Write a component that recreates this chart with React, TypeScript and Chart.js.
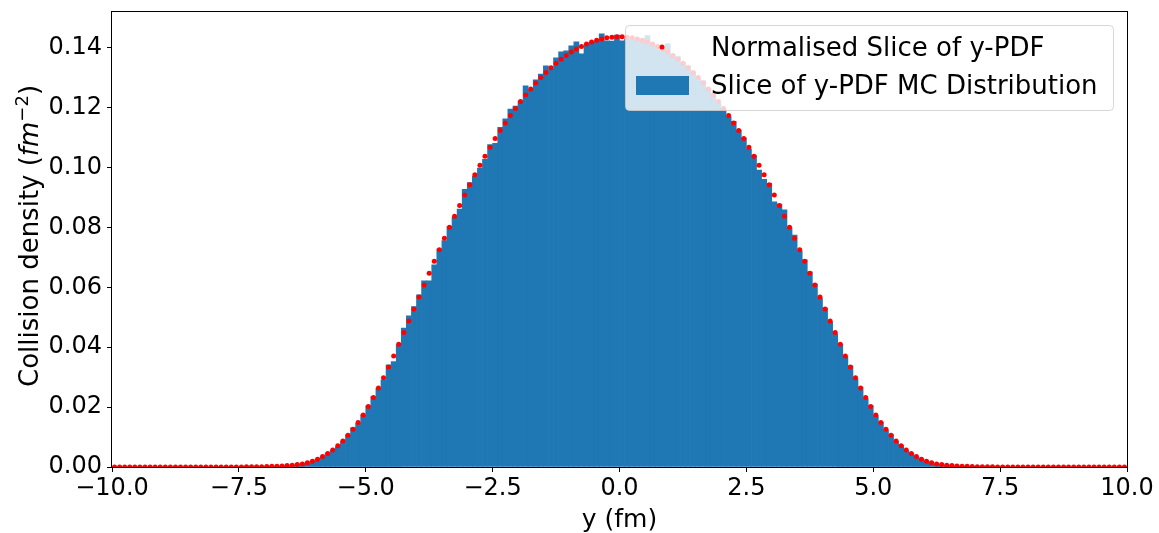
import React, { useEffect, useRef } from "react";
import { Chart, registerables } from "chart.js";

Chart.register(...registerables);

// Histogram definition: 200 bins over [-10, 10]
const HIST_RANGE: number[] = [-10, 10];
const HIST_BINS = 200;

// Normalised slice of y-PDF, evaluated at the bin centres (-9.95 ... 9.95)
const pdfValues: number[] = [
  0, 0, 0, 0, 0, 0, 0, 0, 0, 0,
  0, 0, 0, 0, 0, 0, 0, 0, 0, 0,
  0.00001, 0.00001, 0.00002, 0.00002, 0.00003, 0.00004, 0.00005, 0.00007, 0.00009, 0.00012,
  0.00016, 0.00021, 0.00028, 0.00036, 0.00046, 0.0006, 0.0008, 0.001, 0.0014, 0.0019,
  0.0026, 0.0035, 0.0045, 0.0057, 0.0071, 0.0087, 0.0106, 0.0126, 0.0149, 0.0174,
  0.0202, 0.0232, 0.0264, 0.0298, 0.0334, 0.0371, 0.041, 0.0449, 0.0488, 0.0528,
  0.0568, 0.0608, 0.0647, 0.0687, 0.0726, 0.0764, 0.0801, 0.0838, 0.0874, 0.0909,
  0.0943, 0.0976, 0.1008, 0.1038, 0.1068, 0.1097, 0.1124, 0.1149, 0.1174, 0.1198,
  0.1221, 0.1243, 0.1263, 0.1283, 0.1301, 0.1318, 0.1334, 0.1349, 0.1362, 0.1375,
  0.1386, 0.1396, 0.1405, 0.1413, 0.142, 0.1426, 0.143, 0.1434, 0.1436, 0.1437,
  0.1437, 0.1436, 0.1434, 0.143, 0.1426, 0.142, 0.1413, 0.1405, 0.1396, 0.1386,
  0.1375, 0.1362, 0.1349, 0.1334, 0.1318, 0.1301, 0.1283, 0.1263, 0.1243, 0.1221,
  0.1198, 0.1174, 0.1149, 0.1124, 0.1097, 0.1068, 0.1038, 0.1008, 0.0976, 0.0943,
  0.0909, 0.0874, 0.0838, 0.0801, 0.0764, 0.0726, 0.0687, 0.0647, 0.0608, 0.0568,
  0.0528, 0.0488, 0.0449, 0.041, 0.0371, 0.0334, 0.0298, 0.0264, 0.0232, 0.0202,
  0.0174, 0.0149, 0.0126, 0.0106, 0.0087, 0.0071, 0.0057, 0.0045, 0.0035, 0.0026,
  0.0019, 0.0014, 0.001, 0.0008, 0.0006, 0.00046, 0.00036, 0.00028, 0.00021, 0.00016,
  0.00012, 0.00009, 0.00007, 0.00005, 0.00004, 0.00003, 0.00002, 0.00002, 0.00001, 0.00001,
  0, 0, 0, 0, 0, 0, 0, 0, 0, 0,
  0, 0, 0, 0, 0, 0, 0, 0, 0, 0,
];

// Monte-Carlo histogram (density) per bin
const mcValues: number[] = [
  0, 0, 0, 0, 0, 0, 0, 0, 0, 0,
  0, 0, 0, 0, 0, 0, 0, 0, 0, 0,
  0, 0, 0, 0, 0, 0.00003, 0.00005, 0.00006, 0.0001, 0.0001,
  0.00015, 0.0002, 0.0003, 0.00035, 0.0005, 0.0006, 0.0008, 0.0011, 0.0013, 0.0019,
  0.0025, 0.0034, 0.0046, 0.0056, 0.0068, 0.0085, 0.0107, 0.0131, 0.0146, 0.0174,
  0.0204, 0.0235, 0.0263, 0.0291, 0.0341, 0.0352, 0.0408, 0.0464, 0.0505, 0.0536,
  0.0575, 0.0622, 0.0622, 0.0675, 0.0728, 0.0756, 0.0803, 0.0834, 0.0862, 0.0928,
  0.095, 0.0972, 0.0999, 0.1028, 0.1077, 0.1081, 0.1135, 0.1163, 0.1196, 0.1206,
  0.1222, 0.1273, 0.1258, 0.1293, 0.1313, 0.134, 0.1329, 0.1367, 0.1387, 0.139,
  0.1407, 0.142, 0.138, 0.1413, 0.1419, 0.1423, 0.1447, 0.1424, 0.1423, 0.1443,
  0.1424, 0.143, 0.1425, 0.1432, 0.1427, 0.1441, 0.1412, 0.14, 0.1395, 0.1414,
  0.1378, 0.1371, 0.1352, 0.134, 0.132, 0.1298, 0.129, 0.1266, 0.124, 0.1215,
  0.1196, 0.117, 0.1155, 0.1125, 0.1099, 0.1062, 0.104, 0.0992, 0.0961, 0.0948,
  0.0886, 0.0878, 0.0859, 0.08, 0.0775, 0.0722, 0.0692, 0.0652, 0.0611, 0.0565,
  0.0531, 0.0486, 0.0445, 0.0411, 0.0369, 0.0338, 0.0294, 0.0267, 0.0229, 0.0205,
  0.0172, 0.015, 0.0124, 0.0108, 0.0086, 0.0072, 0.0055, 0.0046, 0.0034, 0.0027,
  0.0018, 0.0014, 0.001, 0.0007, 0.0006, 0.0004, 0.0003, 0.0003, 0.0002, 0.00015,
  0.0001, 0.00008, 0.00006, 0.00004, 0.00003, 0, 0, 0, 0, 0,
  0, 0, 0, 0, 0, 0, 0, 0, 0, 0,
  0, 0, 0, 0, 0, 0, 0, 0, 0, 0,
];

const xTicks: number[] = [-10, -7.5, -5, -2.5, 0, 2.5, 5, 7.5, 10];
const yTicks: number[] = [0, 0.02, 0.04, 0.06, 0.08, 0.1, 0.12, 0.14];
const Y_MAX = 0.152;

const legendLabels: string[] = ["Normalised Slice of y-PDF", "Slice of y-PDF MC Distribution"];
const X_TITLE = "y (fm)";
const Y_TITLE_PARTS: string[] = ["Collision density (", "fm", "\u22122", ")"];

const BAR_COLOR = "#1f77b4";
const DOT_COLOR = "#ff0000";
const FONT = "'DejaVu Sans', 'Liberation Sans', sans-serif";

const binWidth = (HIST_RANGE[1] - HIST_RANGE[0]) / HIST_BINS;
const binCenters: number[] = mcValues.map((_, i) => HIST_RANGE[0] + binWidth * (i + 0.5));

const fmtMinus = (s: string) => s.replace("-", "\u2212");

const decorPlugin = {
  id: "decor",
  afterDraw(chart: any) {
    const { ctx, chartArea } = chart;
    const { left, right, top, bottom } = chartArea;
    ctx.save();
    // frame
    ctx.strokeStyle = "#000";
    ctx.lineWidth = 1;
    ctx.strokeRect(Math.round(left) - 0.5, Math.round(top) - 0.5, Math.round(right - left) + 1, Math.round(bottom - top) + 1);

    // x title
    ctx.fillStyle = "#000";
    ctx.font = `25px ${FONT}`;
    ctx.textAlign = "center";
    ctx.textBaseline = "alphabetic";
    ctx.fillText(X_TITLE, (left + right) / 2, 527);

    // y title (rotated, with italic fm and superscript)
    const normal = `26px ${FONT}`;
    const italic = `italic 26px ${FONT}`;
    const small = `18px ${FONT}`;
    const fonts = [normal, italic, small, normal];
    const widths = Y_TITLE_PARTS.map((t, i) => {
      ctx.font = fonts[i];
      return ctx.measureText(t).width;
    });
    const total = widths.reduce((a, b) => a + b, 0);
    ctx.translate(38, 236);
    ctx.rotate(-Math.PI / 2);
    ctx.textAlign = "left";
    let x = -total / 2;
    Y_TITLE_PARTS.forEach((t, i) => {
      ctx.font = fonts[i];
      ctx.fillText(t, x, i === 2 ? -10 : 0);
      x += widths[i];
    });
    ctx.restore();

    // legend
    ctx.save();
    const lx = 625.5, ly = 25.5, lw = 488, lh = 85, r = 4;
    ctx.beginPath();
    ctx.moveTo(lx + r, ly);
    ctx.lineTo(lx + lw - r, ly);
    ctx.arcTo(lx + lw, ly, lx + lw, ly + r, r);
    ctx.lineTo(lx + lw, ly + lh - r);
    ctx.arcTo(lx + lw, ly + lh, lx + lw - r, ly + lh, r);
    ctx.lineTo(lx + r, ly + lh);
    ctx.arcTo(lx, ly + lh, lx, ly + lh - r, r);
    ctx.lineTo(lx, ly + r);
    ctx.arcTo(lx, ly, lx + r, ly, r);
    ctx.closePath();
    ctx.fillStyle = "rgba(255,255,255,0.8)";
    ctx.fill();
    ctx.strokeStyle = "rgba(204,204,204,0.8)";
    ctx.lineWidth = 1;
    ctx.stroke();

    ctx.fillStyle = DOT_COLOR;
    ctx.beginPath();
    ctx.arc(662, 47, 2.5, 0, Math.PI * 2);
    ctx.fill();
    ctx.fillStyle = BAR_COLOR;
    ctx.fillRect(636, 76, 53, 19);

    ctx.fillStyle = "#000";
    ctx.font = `26px ${FONT}`;
    ctx.textAlign = "left";
    ctx.textBaseline = "alphabetic";
    ctx.fillText(legendLabels[0], 711, 56);
    ctx.fillText(legendLabels[1], 711, 94);
    ctx.restore();
  },
};

export default function App() {
  const ref = useRef<HTMLCanvasElement | null>(null);
  useEffect(() => {
    if (!ref.current) return;
    const chart = new Chart(ref.current, {
      type: "bar",
      data: {
        datasets: [
          {
            type: "scatter",
            label: legendLabels[0],
            data: binCenters.map((x, i) => ({ x, y: pdfValues[i] })),
            backgroundColor: DOT_COLOR,
            borderColor: DOT_COLOR,
            borderWidth: 0,
            pointRadius: 2.5,
            order: 0,
          } as any,
          {
            type: "bar",
            label: legendLabels[1],
            data: binCenters.map((x, i) => ({ x, y: mcValues[i] })),
            backgroundColor: BAR_COLOR,
            borderWidth: 0,
            barPercentage: 1,
            categoryPercentage: 1,
            order: 1,
          } as any,
        ],
      },
      options: {
        responsive: false,
        animation: false,
        events: [],
        layout: { padding: { top: 12, right: 32, left: 0, bottom: 0 } },
        plugins: { legend: { display: false }, tooltip: { enabled: false } },
        scales: {
          x: {
            type: "linear",
            min: HIST_RANGE[0],
            max: HIST_RANGE[1],
            offset: false,
            afterBuildTicks: (s: any) => {
              s.ticks = xTicks.map((v) => ({ value: v }));
            },
            afterFit: (s: any) => {
              s.height = 66;
              s.paddingLeft = 0;
              s.paddingRight = 0;
            },
            grid: { display: true, offset: false, drawOnChartArea: false, drawTicks: true, tickLength: 5, tickColor: "#000", lineWidth: 1 },
            border: { display: false },
            ticks: {
              color: "#000",
              font: { family: FONT, size: 24 },
              padding: 2,
              maxRotation: 0,
              autoSkip: false,
              callback: (v: any) => fmtMinus(Number(v).toFixed(1)),
            },
          },
          y: {
            type: "linear",
            min: 0,
            max: Y_MAX,
            afterBuildTicks: (s: any) => {
              s.ticks = yTicks.map((v) => ({ value: v }));
            },
            afterFit: (s: any) => {
              s.width = 112;
              s.paddingTop = 0;
              s.paddingBottom = 0;
            },
            grid: { display: true, offset: false, drawOnChartArea: false, drawTicks: true, tickLength: 5, tickColor: "#000", lineWidth: 1 },
            border: { display: false },
            ticks: {
              color: "#000",
              font: { family: FONT, size: 24 },
              padding: 5,
              autoSkip: false,
              callback: (v: any) => Number(v).toFixed(2),
            },
          },
        },
      },
      plugins: [decorPlugin],
    });
    return () => chart.destroy();
  }, []);
  return (
    <canvas
      ref={ref}
      width={1159}
      height={533}
      style={{ position: "absolute", left: 0, top: 0, width: 1159, height: 533 }}
    />
  );
}
